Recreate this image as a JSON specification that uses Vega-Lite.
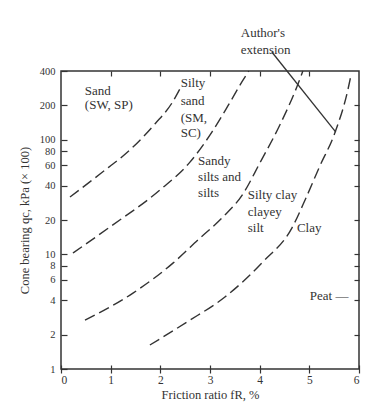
{
  "$schema": "https://vega.github.io/schema/vega-lite/v6.json",
  "width": 298,
  "height": 298,
  "autosize": {"type": "none"},
  "padding": {"left": 61, "top": 71, "right": 10, "bottom": 34},
  "background": "white",
  "config": {
    "view": {"stroke": "#333", "strokeWidth": 1.5},
    "axis": {"labelFont": "Liberation Serif", "titleFont": "Liberation Serif", "labelColor": "#333", "titleColor": "#333", "tickColor": "#333", "tickWidth": 1.2, "labelFontSize": 10.5, "titleFontSize": 12.5, "titleFontWeight": "normal", "grid": false, "labelOverlap": false}
  },
  "datasets": {
    "curves": [
      {"series": "c1", "x": 0.181, "y": 31.8},
      {"series": "c1", "x": 0.785, "y": 50.4},
      {"series": "c1", "x": 1.429, "y": 85},
      {"series": "c1", "x": 1.891, "y": 138},
      {"series": "c1", "x": 2.233, "y": 210},
      {"series": "c1", "x": 2.414, "y": 290},
      {"series": "c2", "x": 0.241, "y": 10.3},
      {"series": "c2", "x": 0.986, "y": 17.4},
      {"series": "c2", "x": 1.99, "y": 36.5},
      {"series": "c2", "x": 2.596, "y": 64},
      {"series": "c2", "x": 3.038, "y": 117},
      {"series": "c2", "x": 3.36, "y": 198},
      {"series": "c2", "x": 3.642, "y": 321},
      {"series": "c2", "x": 3.78, "y": 400},
      {"series": "c3", "x": 0.483, "y": 2.67},
      {"series": "c3", "x": 1.449, "y": 4.6},
      {"series": "c3", "x": 2.254, "y": 8.4},
      {"series": "c3", "x": 2.797, "y": 13.9},
      {"series": "c3", "x": 3.239, "y": 20.8},
      {"series": "c3", "x": 3.662, "y": 33.7},
      {"series": "c3", "x": 4.004, "y": 63},
      {"series": "c3", "x": 4.406, "y": 135},
      {"series": "c3", "x": 4.748, "y": 290},
      {"series": "c3", "x": 4.87, "y": 400},
      {"series": "c4", "x": 1.79, "y": 1.62},
      {"series": "c4", "x": 2.535, "y": 2.57},
      {"series": "c4", "x": 3.3, "y": 4.25},
      {"series": "c4", "x": 4.064, "y": 8.6},
      {"series": "c4", "x": 4.648, "y": 17},
      {"series": "c4", "x": 4.93, "y": 31},
      {"series": "c4", "x": 5.21, "y": 59},
      {"series": "c4", "x": 5.513, "y": 115},
      {"series": "c4", "x": 5.775, "y": 273},
      {"series": "c4", "x": 5.835, "y": 361}
    ],
    "author": [
      {"x": 4.245, "y": 586},
      {"x": 5.533, "y": 117}
    ],
    "labels": [
      {"text": "Sand", "x": 0.48, "y": 267},
      {"text": "(SW, SP)", "x": 0.48, "y": 202},
      {"text": "Silty", "x": 2.41, "y": 314},
      {"text": "sand", "x": 2.41, "y": 219},
      {"text": "(SM,", "x": 2.41, "y": 156},
      {"text": "SC)", "x": 2.41, "y": 115},
      {"text": "Sandy", "x": 2.76, "y": 65.5},
      {"text": "silts and", "x": 2.76, "y": 47.5},
      {"text": "silts", "x": 2.76, "y": 34.4},
      {"text": "Silty clay", "x": 3.76, "y": 33},
      {"text": "clayey", "x": 3.76, "y": 23.5},
      {"text": "silt", "x": 3.76, "y": 17},
      {"text": "Clay", "x": 4.75, "y": 17},
      {"text": "Author's", "x": 3.62, "y": 859},
      {"text": "extension", "x": 3.62, "y": 610},
      {"text": "Peat —", "x": 5.01, "y": 4.33}
    ]
  },
  "resolve": {"axis": {"x": "independent", "y": "independent"}},
  "layer": [
    {
      "data": {"name": "curves"},
      "mark": {"type": "line", "color": "#333", "strokeWidth": 1.4, "strokeDash": [11, 5], "interpolate": "monotone"},
      "encoding": {
        "x": {"field": "x", "type": "quantitative", "scale": {"domain": [0, 6], "nice": false},
          "axis": {"orient": "bottom", "values": [0, 1, 2, 3, 4, 5, 6], "domain": false, "tickSize": 8, "offset": -4, "labelPadding": 1, "labelFontSize": 11.5, "title": "Friction ratio  fR, %", "titlePadding": 3}},
        "y": {"field": "y", "type": "quantitative", "scale": {"type": "log", "domain": [1, 400], "nice": false},
          "axis": {"orient": "left", "values": [1, 2, 4, 6, 8, 10, 20, 40, 60, 80, 100, 200, 400], "domain": false, "tickSize": 6, "offset": -6, "labelPadding": 6, "title": "Cone bearing qc, kPa (× 100)", "titlePadding": 8}},
        "detail": {"field": "series"}
      }
    },
    {
      "data": {"name": "author"},
      "mark": {"type": "line", "color": "#333", "strokeWidth": 1.3},
      "encoding": {
        "x": {"field": "x", "type": "quantitative", "scale": {"domain": [0, 6], "nice": false},
          "axis": {"orient": "top", "values": [1, 2, 3, 4, 5], "labels": false, "domain": false, "tickSize": 5, "offset": -5, "title": null}},
        "y": {"field": "y", "type": "quantitative", "scale": {"type": "log", "domain": [1, 400], "nice": false},
          "axis": {"orient": "right", "values": [2, 4, 6, 8, 10, 20, 40, 60, 80, 100, 200], "labels": false, "domain": false, "tickSize": 5, "offset": -5, "title": null}}
      }
    },
    {
      "data": {"name": "labels"},
      "mark": {"type": "text", "align": "left", "baseline": "middle", "font": "Liberation Serif", "fontSize": 13, "color": "#333"},
      "encoding": {
        "x": {"field": "x", "type": "quantitative", "scale": {"domain": [0, 6], "nice": false}, "axis": null},
        "y": {"field": "y", "type": "quantitative", "scale": {"type": "log", "domain": [1, 400], "nice": false}, "axis": null},
        "text": {"field": "text"}
      }
    }
  ]
}
